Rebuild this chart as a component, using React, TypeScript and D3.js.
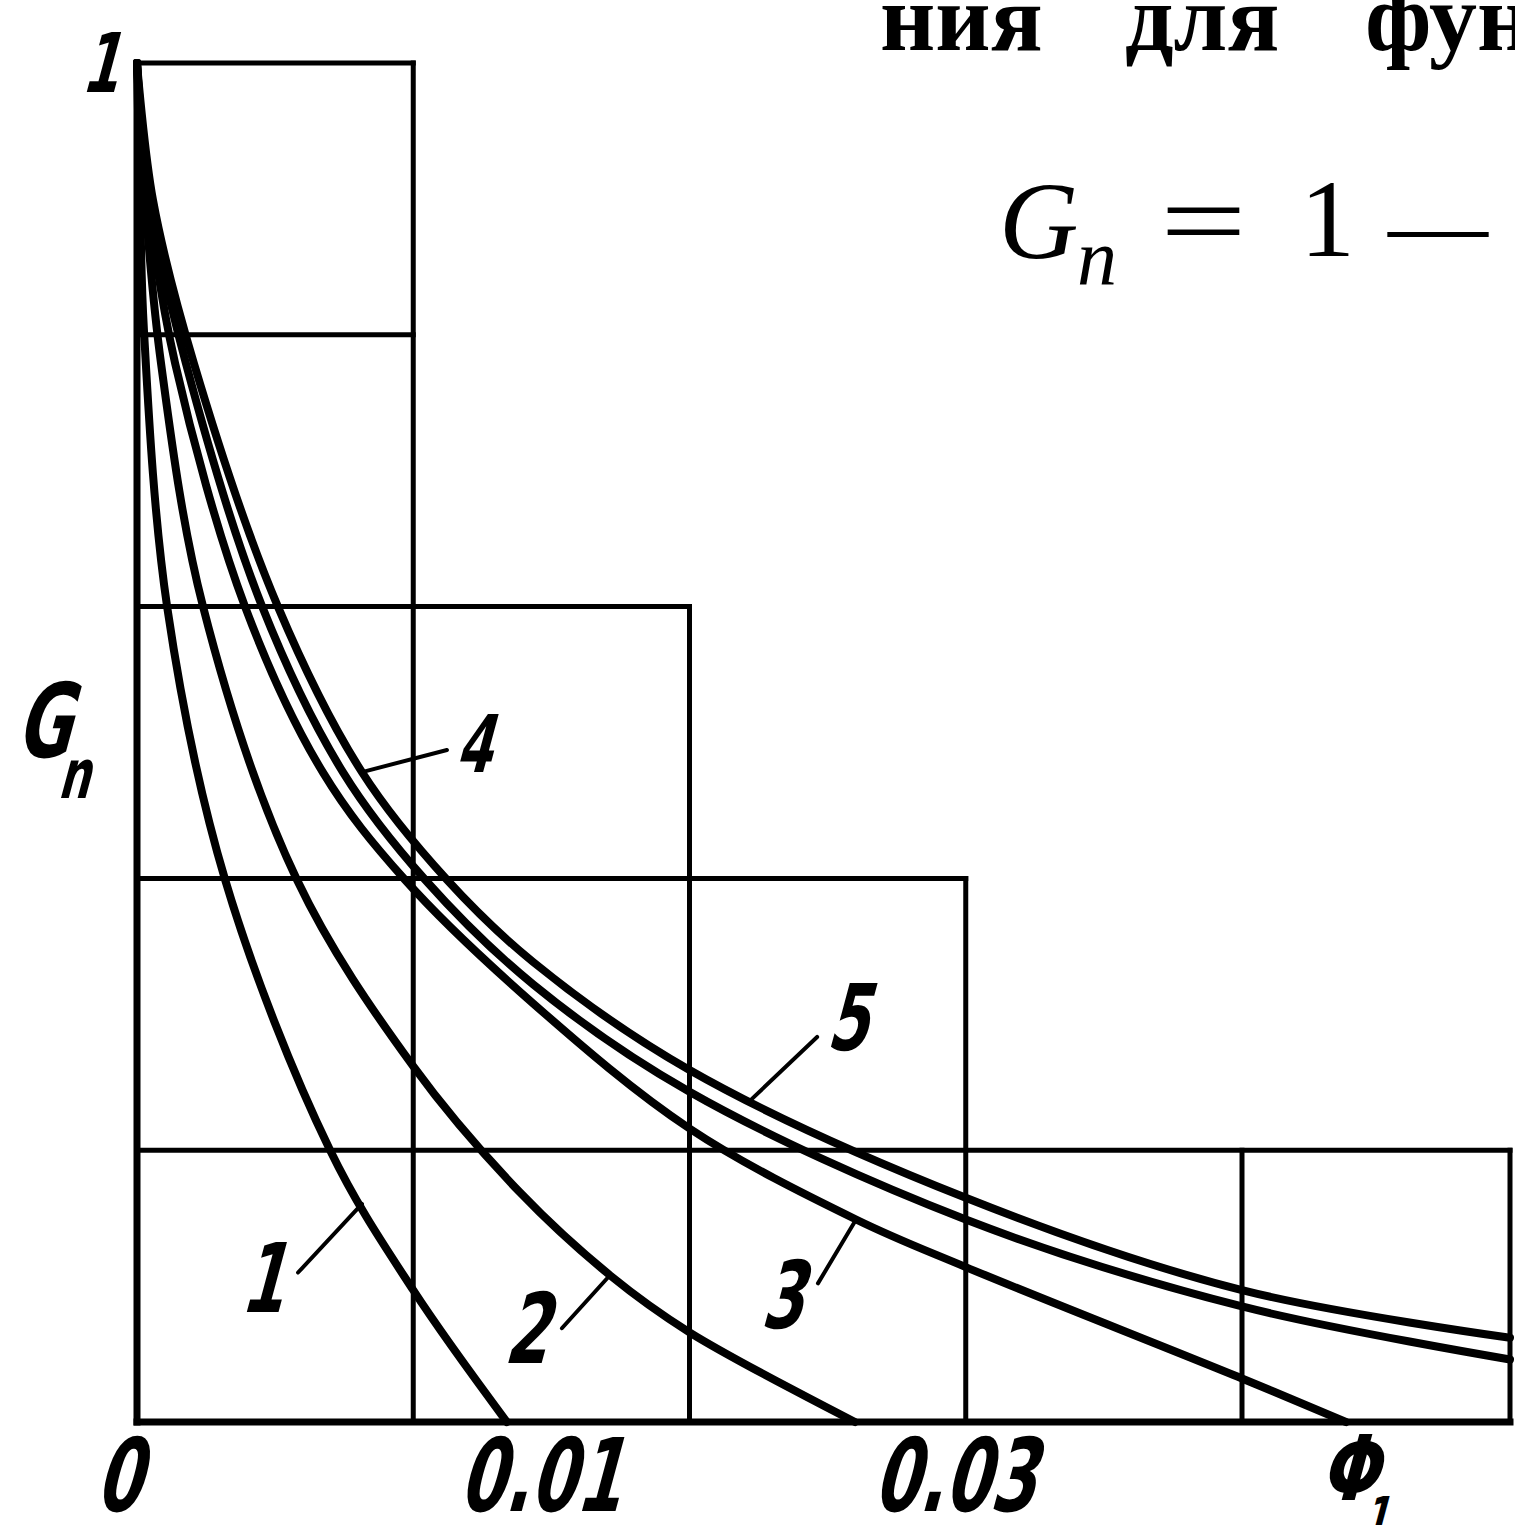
import React from "react";
import * as d3 from "d3";

// ---- data -------------------------------------------------------------
// Horizontal axis is measured in grid divisions (0..5); vertical axis is G_n (0..1).
type Pt = [number, number];

const curve1: Pt[] = [
  [0, 1], [0.011, 0.899], [0.025, 0.804], [0.109, 0.6], [0.319, 0.399],
  [0.699, 0.2], [1.0, 0.097], [1.339, 0],
];
const curve2: Pt[] = [
  [0, 1], [0.029, 0.899], [0.087, 0.779], [0.239, 0.6], [0.579, 0.399],
  [0.999, 0.262], [1.386, 0.169], [1.712, 0.108], [2.0, 0.066], [2.599, 0],
];
const curve3: Pt[] = [
  [0, 1], [0.04, 0.899], [0.138, 0.779], [0.391, 0.6], [0.673, 0.478],
  [0.97, 0.399], [1.434, 0.308], [2.0, 0.216], [2.603, 0.149], [3.0, 0.114],
  [4.0, 0.032], [4.388, 0],
];
const curve4: Pt[] = [
  [0, 1], [0.047, 0.899], [0.177, 0.779], [0.453, 0.6], [0.746, 0.478],
  [1.043, 0.399], [1.434, 0.322], [2.0, 0.243], [3.0, 0.149], [4.0, 0.085], [5.0, 0.046],
];
const curve5: Pt[] = [
  [0, 1], [0.058, 0.899], [0.206, 0.779], [0.51, 0.6], [0.815, 0.478],
  [1.122, 0.399], [1.434, 0.3385], [2.0, 0.259], [3.0, 0.165], [4.0, 0.097], [5.0, 0.062],
];
const curves = [curve1, curve2, curve3, curve4, curve5];

// Curve numbers: where they sit, the leader's free end, and the Φ where each leader meets its curve.
const curveNames = ["1", "2", "3", "4", "5"];
const nameAt: Pt[] = [[0.449, 0.081], [1.405, 0.0434], [2.331, 0.0692], [1.216, 0.478], [2.567, 0.2737]];
const nameHeight = [70, 71, 68, 58, 67];
const leaderFrom: Pt[] = [[0.583, 0.11], [1.538, 0.069], [2.465, 0.102], [1.122, 0.4945], [2.462, 0.2833]];
const leaderCurve = [0, 1, 2, 4, 4];
const leaderToPhi = [0.8145, 1.712, 2.603, 0.8145, 2.226];

// Staircase grid: level -> right end (divisions); division -> top level.
const levels = [0, 0.2, 0.4, 0.6, 0.8, 1.0];
const levelRight = [5, 5, 3, 2, 1, 1];
const divisions = [0, 1, 2, 3, 4, 5];
const divisionTop = [1, 1, 0.6, 0.4, 0.2, 0.2];

const xTickLabels = ["0", "0.01", "0.03"];
const xTickAt = [-0.072, 1.455, 2.954];

// ---- layout -----------------------------------------------------------
const W = 1515;
const H = 1525;
const x = d3.scaleLinear().domain([0, 4, 5]).range([137, 1242, 1510]);
const y = d3.scaleLinear().domain([0, 1]).range([1422, 63]);

const draftFont = "'DejaVu Sans Condensed','DejaVu Sans',sans-serif";
const serifFont = "'Liberation Serif','Times New Roman',serif";

const line = d3
  .line<Pt>()
  .x((d) => x(d[0]))
  .y((d) => y(d[1]))
  .curve(d3.curveCatmullRom.alpha(0.5));

function valueAt(c: Pt[], phi: number): number {
  const i = Math.max(1, Math.min(c.length - 1, d3.bisector((d: Pt) => d[0]).left(c, phi)));
  const [x0, y0] = c[i - 1];
  const [x1, y1] = c[i];
  return y0 + ((phi - x0) / (x1 - x0)) * (y1 - y0);
}

// Slanted, narrow drafting lettering; (cx, base) is the bottom centre, h the digit height.
function Draft({ cx, base, h, sx = 0.72, children }: any) {
  const size = h / 0.729;
  return (
    <text
      transform={`translate(${cx},${base}) skewX(-15) scale(${sx},1)`}
      fontFamily={draftFont}
      fontWeight={700}
      fontSize={size}
      textAnchor="middle"
      fill="#000"
    >
      {children}
    </text>
  );
}

export default function App() {
  return (
    <svg
      width={W}
      height={H}
      viewBox={`0 0 ${W} ${H}`}
      style={{ position: "absolute", left: 0, top: 0, background: "#fff" }}
    >
      <rect width={W} height={H} fill="#fff" />

      {/* staircase grid */}
      <g stroke="#000" strokeLinecap="square" fill="none">
        {levels.map((lv, i) => (
          <line key={"h" + i} x1={x(0)} x2={x(levelRight[i])} y1={y(lv)} y2={y(lv)} strokeWidth={lv === 0 ? 7 : 5} />
        ))}
        {divisions.map((dv, i) => (
          <line key={"v" + i} x1={x(dv)} x2={x(dv)} y1={y(0)} y2={y(divisionTop[i])} strokeWidth={dv === 0 ? 7 : 5} />
        ))}
      </g>

      {/* curves */}
      <g stroke="#000" strokeWidth={8} fill="none" strokeLinecap="round">
        {curves.map((c, i) => (
          <path key={i} d={line(c) || ""} />
        ))}
      </g>

      {/* leaders and curve numbers */}
      <g stroke="#000" strokeWidth={4} strokeLinecap="round">
        {leaderFrom.map((p, i) => {
          const phi = leaderToPhi[i];
          const g = valueAt(curves[leaderCurve[i]], phi);
          return <line key={i} x1={x(p[0])} y1={y(p[1])} x2={x(phi)} y2={y(g)} />;
        })}
      </g>
      {curveNames.map((n, i) => (
        <Draft key={n} cx={x(nameAt[i][0])} base={y(nameAt[i][1])} h={nameHeight[i]}>
          {n}
        </Draft>
      ))}

      {/* axis lettering */}
      {xTickLabels.map((t, i) => (
        <Draft key={t} cx={x(xTickAt[i])} base={1511} h={74}>
          {t}
        </Draft>
      ))}
      <Draft cx={x(4.396)} base={1500} h={66} sx={0.85}>
        Φ
      </Draft>
      <Draft cx={x(4.496)} base={1536} h={40}>
        1
      </Draft>
      <Draft cx={x(-0.1376)} base={y(0.9787)} h={60}>
        1
      </Draft>
      <Draft cx={x(-0.344)} base={y(0.4893)} h={75}>
        G
      </Draft>
      <Draft cx={x(-0.2317)} base={y(0.459)} h={50}>
        n
      </Draft>

      {/* running text of the page */}
      <g fontFamily={serifFont} fontWeight={700} fontSize={96} fill="#000">
        <text x={880} y={50}>ния</text>
        <text x={1125} y={50}>для</text>
        <text x={1365} y={50}>функции</text>
      </g>
      <g fontFamily={serifFont} fill="#000">
        <text x={999} y={258} fontSize={110} fontStyle="italic">G</text>
        <text x={1077} y={284} fontSize={80} fontStyle="italic">n</text>
        <text transform="translate(1160,258) scale(1.4,1)" fontSize={110}>=</text>
        <text x={1300} y={256} fontSize={110}>1</text>
        <text x={1388} y={258} fontSize={100}>—</text>
      </g>
    </svg>
  );
}
